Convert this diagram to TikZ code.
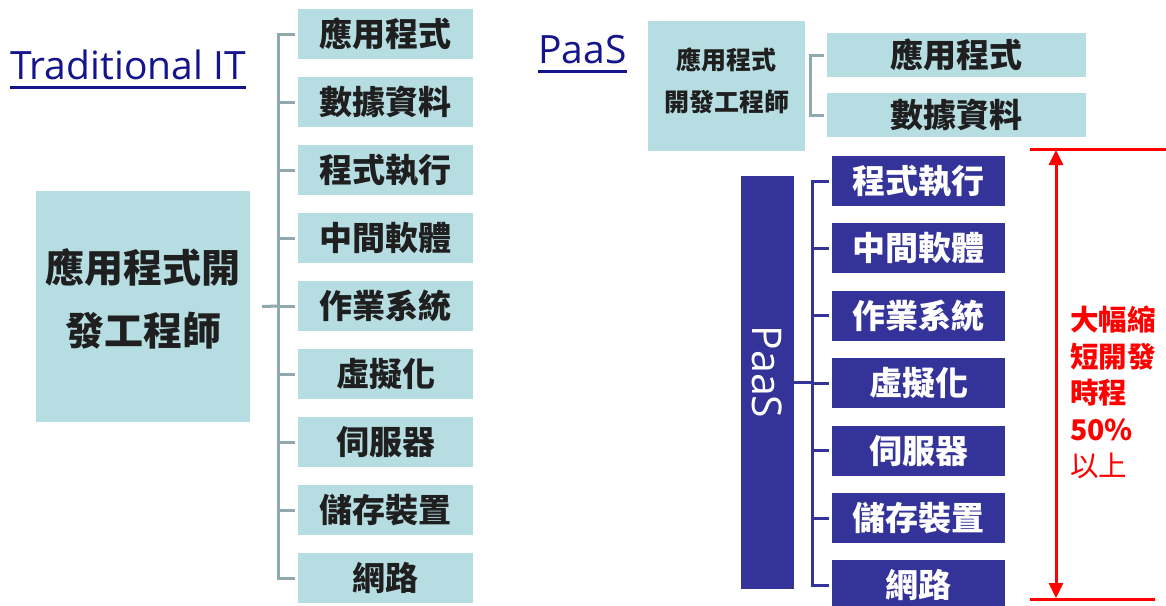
\documentclass[tikz,border=0pt]{standalone}
\usepackage{fontspec}
\setmainfont{Open Sans}
\newfontfamily\cjk{Noto Sans CJK TC}
\usetikzlibrary{arrows.meta}
\definecolor{lightbox}{HTML}{B6DEE2}
\definecolor{brkgrey}{HTML}{8FA9AF}
\definecolor{boxnavy}{HTML}{333399}
\definecolor{titleblue}{HTML}{14148C}
\definecolor{redline}{HTML}{FF0000}
\begin{document}
\begin{tikzpicture}[x=1pt,y=-1pt,
  lbox/.style={fill=lightbox, minimum width=175pt, minimum height=50pt, inner sep=0pt, text=black!88, font=\cjk\bfseries\fontsize{33}{36}\selectfont},
  rbox/.style={lbox, minimum width=259pt, minimum height=44pt},
  dbox/.style={fill=boxnavy, minimum width=173pt, minimum height=50pt, inner sep=0pt, text=white, font=\cjk\bfseries\fontsize{33}{36}\selectfont},
  lbrk/.style={draw=brkgrey, line width=3pt},
  dbrk/.style={draw=boxnavy, line width=3pt},
  title/.style={anchor=base west, inner sep=0pt, text=titleblue, font=\fontsize{39}{44}\selectfont},
  uline/.style={draw=titleblue, line width=3pt},
  redarrow/.style={draw=redline, line width=3pt},
]
\useasboundingbox (0,0) rectangle (1166,605);

% ---------- Traditional IT ----------
\node[title] (t1) at (10,79) {Traditional IT};
\draw[uline] ([yshift=-8pt]t1.base west) -- ([yshift=-8pt]t1.base east);

\node[lbox, minimum width=214pt, minimum height=231pt] (dev) at (143,306.5) {};
\node[inner sep=0pt, align=center, text=black!88, font=\cjk\bfseries\fontsize{39}{63}\selectfont] (devtext) at (143,298.5) {應用程式開\\發工程師};

\foreach \i/\t in {1/應用程式,2/數據資料,3/程式執行,4/中間軟體,5/作業系統,6/虛擬化,7/伺服器,8/儲存裝置,9/網路}{
  \node[lbox] (L\i) at (385.5,{34+68*(\i-1)}) {\t};
}
\draw[lbrk] ([xshift=-3pt]L1.west) -- ++(-16,0) -- ([xshift=-19pt]L9.west) -- ([xshift=-3pt]L9.west);
\foreach \i in {2,...,8}{
  \draw[lbrk] ([xshift=-3pt]L\i.west) -- ++(-16,0);
}
\draw[lbrk] ([xshift=12pt]dev.east) -- ([xshift=-19pt]L5.west);

% ---------- PaaS ----------
\node[title] (t2) at (538,63) {PaaS};
\draw[uline] ([yshift=-8pt]t2.base west) -- ([yshift=-8pt]t2.base east);

\node[lbox, minimum width=157pt, minimum height=130pt] (pdev) at (726.5,86) {};
\node[inner sep=0pt, align=center, text=black!88, font=\cjk\bfseries\fontsize{25}{42}\selectfont] (pdevtext) at (726.5,81) {應用程式\\開發工程師};

\node[rbox] (R1) at (956.5,55) {應用程式};
\node[rbox] (R2) at (956.5,115) {數據資料};
\draw[lbrk] ([xshift=-3pt]R1.west) -- ++(-13,0) -- ([xshift=-16pt]R2.west) -- ([xshift=-3pt]R2.west);

\node[fill=boxnavy, minimum width=53pt, minimum height=413pt, inner sep=0pt] (bar) at (767.5,382.5) {};
\node[rotate=-90, inner sep=0pt, text=white, font=\fontsize{41}{41}\selectfont] (bartext) at (767.5,372) {PaaS};

\foreach \i/\t in {1/程式執行,2/中間軟體,3/作業系統,4/虛擬化,5/伺服器,6/儲存裝置,7/網路}{
  \node[dbox] (D\i) at (918.5,{181+67.4*(\i-1)}) {\t};
}
\draw[dbrk] ([xshift=-3pt]D1.west) -- ++(-16,0) -- ([xshift=-19pt]D7.west) -- ([xshift=-3pt]D7.west);
\foreach \i in {2,...,6}{
  \draw[dbrk] ([xshift=-3pt]D\i.west) -- ++(-16,0);
}
\draw[dbrk] (bar.east) -- ([xshift=-19pt]D4.west |- bar.east);

% ---------- red measure ----------
\coordinate (rtl) at (1030,149);
\coordinate (rtr) at (1166,149);
\coordinate (rbl) at (1030,599);
\coordinate (rbr) at (1155,599);
\coordinate (rt) at (1056,150);
\coordinate (rb) at (1056,598);
\draw[redarrow] (rtl) -- (rtr);
\draw[redarrow] (rbl) -- (rbr);
\draw[redarrow, {Triangle[width=14pt,length=15pt]}-{Triangle[width=14pt,length=15pt]}] (rt) -- (rb);
\node[anchor=west, inner sep=0pt, align=left, text=redline, font=\cjk\fontsize{28.5}{36.5}\selectfont] (rtext) at (1070,392.5)
  {\bfseries 大幅縮\\\bfseries 短開發\\\bfseries 時程\\\bfseries 50\%\\以上};
\end{tikzpicture}
\end{document}
